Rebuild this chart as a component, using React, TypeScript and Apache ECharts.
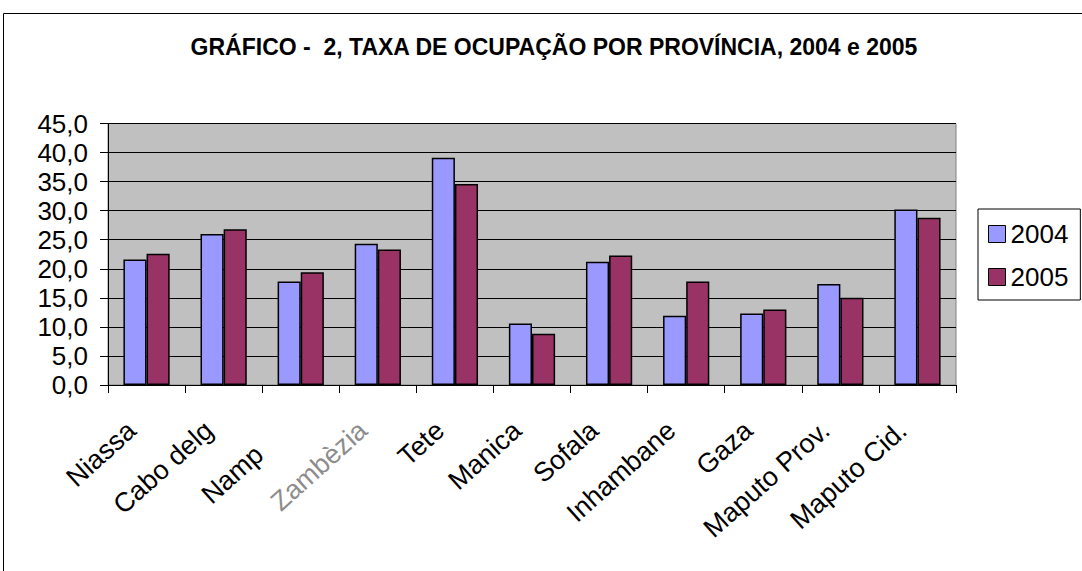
import React, { useEffect, useRef } from "react";
import * as echarts from "echarts";

const categories = ["Niassa", "Cabo delg", "Nampula", "Zambèzia", "Tete", "Manica", "Sofala", "Inhambane", "Gaza", "Maputo Prov.", "Maputo Cid."];
const values2004 = [21.6, 26.0, 17.8, 24.3, 39.1, 10.6, 21.2, 11.9, 12.3, 17.4, 30.2];
const values2005 = [22.6, 26.8, 19.4, 23.3, 34.6, 8.8, 22.3, 17.8, 13.0, 15.0, 28.8];
const seriesNames = ["2004", "2005"];
const titleText = "GRÁFICO -  2, TAXA DE OCUPAÇÃO POR PROVÍNCIA, 2004 e 2005";

export default function App() {
  const ref = useRef<HTMLDivElement>(null);
  useEffect(() => {
    document.body.style.margin = "0";
    const chart = echarts.init(ref.current!, null, { renderer: "svg" });
    const font = "Arial, 'Liberation Sans', sans-serif";
    const endPad = [0, 20, 0, 0];
    chart.setOption({
      animation: false,
      backgroundColor: "#ffffff",
      graphic: [
        {
          type: "rect",
          shape: { x: 3.5, y: 13.5, width: 1100, height: 600 },
          style: { fill: "none", stroke: "#000", lineWidth: 1 },
          silent: true,
        },
      ],
      title: {
        text: titleText,
        left: 549,
        textAlign: "center",
        top: 30,
        textStyle: { fontFamily: font, fontWeight: "bold", fontSize: 23, color: "#000" },
      },
      legend: {
        orient: "vertical",
        left: 978,
        top: 209,
        padding: [12, 12, 10, 10],
        itemGap: 17,
        borderColor: "#000",
        borderWidth: 1,
        itemWidth: 17,
        itemHeight: 17,
        icon: "rect",
        itemStyle: { borderColor: "#000", borderWidth: 1 },
        textStyle: { fontFamily: font, fontSize: 26, color: "#000" },
        data: seriesNames,
      },
      grid: {
        left: 108,
        top: 123.5,
        right: 126,
        bottom: 186,
        show: true,
        backgroundColor: "#c0c0c0",
        borderColor: "#808080",
        borderWidth: 1,
        containLabel: false,
      },
      xAxis: {
        type: "category",
        data: categories,
        axisLine: { lineStyle: { color: "#000", width: 1 } },
        axisTick: { show: true, length: 8, lineStyle: { color: "#000" } },
        axisLabel: {
          interval: 0,
          rotate: 42,
          margin: 28,
          fontFamily: font,
          fontSize: 27,
          color: "#000",
          formatter: (v: string) => {
            if (v === "Zambèzia") return "{z|" + v + "}";
            if (v === "Nampula") return "{n|" + v.slice(0, 4) + "}{h|" + v.slice(4) + "}";
            return "{t|" + v + "}";
          },
          rich: {
            t: { fontFamily: font, fontSize: 27, color: "#000", padding: endPad },
            n: { fontFamily: font, fontSize: 27, color: "#000" },
            h: { fontFamily: font, fontSize: 27, color: "rgba(0,0,0,0)", padding: endPad },
            z: { fontFamily: font, fontSize: 27, color: "#8c8c8c", padding: endPad },
          },
        },
      },
      yAxis: {
        type: "value",
        min: 0,
        max: 45,
        interval: 5,
        axisLine: { show: true, lineStyle: { color: "#000", width: 1 } },
        axisTick: { show: true, length: 8, lineStyle: { color: "#000" } },
        splitLine: { show: true, lineStyle: { color: "#000", width: 1 } },
        axisLabel: {
          margin: 20,
          fontFamily: font,
          fontSize: 26,
          color: "#000",
          formatter: (v: number) => v.toFixed(1).replace(".", ","),
        },
      },
      series: [
        {
          name: seriesNames[0],
          type: "bar",
          data: values2004,
          barGap: "0%",
          barCategoryGap: "40%",
          itemStyle: { color: "#9999ff", borderColor: "#000", borderWidth: 1.5 },
        },
        {
          name: seriesNames[1],
          type: "bar",
          data: values2005,
          barGap: "0%",
          barCategoryGap: "40%",
          itemStyle: { color: "#993366", borderColor: "#000", borderWidth: 1.5 },
        },
      ],
    });
    return () => chart.dispose();
  }, []);
  return <div ref={ref} style={{ position: "absolute", left: 0, top: 0, width: 1082, height: 571 }} />;
}
